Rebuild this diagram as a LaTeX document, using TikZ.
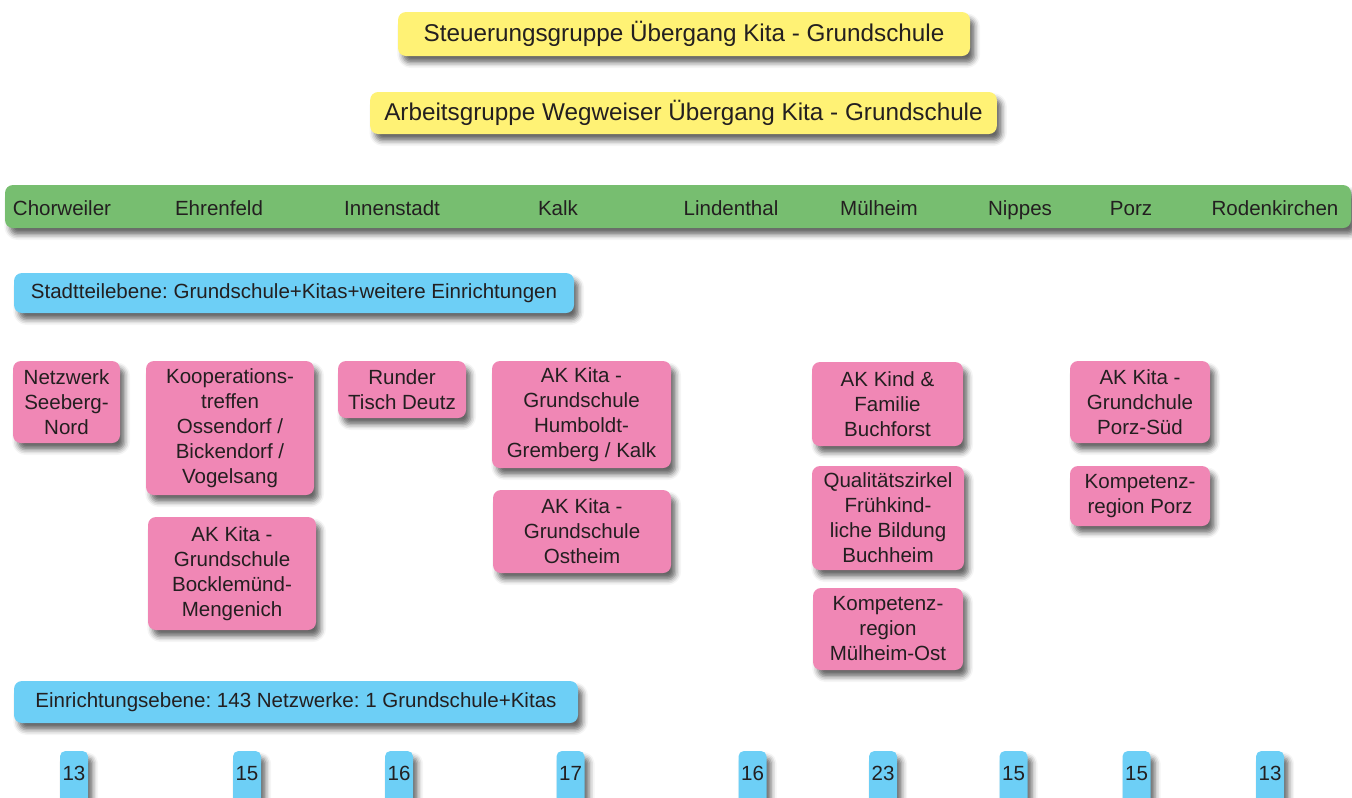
\documentclass[tikz,border=0pt]{standalone}
\usepackage{fontspec}
\setmainfont{Liberation Sans}
\usepackage{tikz}
\usetikzlibrary{shadows.blur}
\frenchspacing
\definecolor{kyellow}{RGB}{255,242,117}
\definecolor{kgreen}{RGB}{119,190,112}
\definecolor{kblue}{RGB}{109,207,246}
\definecolor{kpink}{RGB}{240,135,181}
\definecolor{ktext}{RGB}{35,31,32}
\tikzset{
	box/.style={rounded corners=6pt, inner sep=0pt, align=center, text=ktext,
		font=\fontsize{15.4}{18.75}\selectfont,
		blur shadow={shadow xshift=3.5pt, shadow yshift=-5pt, shadow blur radius=4pt, shadow opacity=60}},
	yellowbox/.style={box, fill=kyellow, font=\fontsize{18.2}{21}\selectfont},
	greenbar/.style={box, fill=kgreen},
	bluebox/.style={box, fill=kblue},
	pinkbox/.style={box, fill=kpink},
	numbox/.style={box, fill=kblue, rounded corners=4pt, minimum width=21pt, text height=21.75pt, text depth=18.75pt, anchor=base},
	district/.style={text=ktext, font=\fontsize{15.4}{18.75}\selectfont, anchor=base, inner sep=0pt}
}
\begin{document}
\begin{tikzpicture}[x=0.75pt, y=-0.75pt]
	\useasboundingbox (0,0) rectangle (1352,797);
	\node[yellowbox, minimum width=429pt, minimum height=33pt] (steuer) at (684,34) {Steuerungsgruppe Übergang Kita - Grundschule};
	\node[yellowbox, minimum width=470pt, minimum height=31.5pt] (arbeit) at (683.5,113) {Arbeitsgruppe Wegweiser Übergang Kita - Grundschule};
	\node[greenbar, minimum width=1009.5pt, minimum height=32.25pt] (bar) at (678,206.5) {};
	\node[district] (chor) at (62,215) {Chorweiler};
	\node[district] (ehren) at (219,215) {Ehrenfeld};
	\node[district] (innen) at (392,215) {Innenstadt};
	\node[district] (kalk) at (558,215) {Kalk};
	\node[district] (linden) at (731,215) {Lindenthal};
	\node[district] (muel) at (879,215) {Mülheim};
	\node[district] (nippes) at (1020,215) {Nippes};
	\node[district] (porz) at (1131,215) {Porz};
	\node[district] (roden) at (1275,215) {Rodenkirchen};
	\node[bluebox, minimum width=420pt, minimum height=30pt] (stadt) at (294,293) {Stadtteilebene: Grundschule+Kitas+weitere Einrichtungen};
	\node[pinkbox, minimum width=80.25pt, minimum height=61.5pt] (seeberg) at (66.5,402) {Netzwerk\\Seeberg-\\Nord};
	\node[pinkbox, minimum width=126pt, minimum height=100.5pt] (koop) at (230,428) {Kooperations-\\treffen\\Ossendorf /\\Bickendorf /\\Vogelsang};
	\node[pinkbox, minimum width=126pt, minimum height=84.75pt] (bockl) at (232,573.5) {AK Kita -\\Grundschule\\Bocklemünd-\\Mengenich};
	\node[pinkbox, minimum width=96pt, minimum height=42.75pt] (deutz) at (402,389.5) {Runder\\Tisch Deutz};
	\node[pinkbox, minimum width=134.25pt, minimum height=80.25pt] (humb) at (581.5,414.5) {AK Kita -\\Grundschule\\Humboldt-\\Gremberg / Kalk};
	\node[pinkbox, minimum width=133.5pt, minimum height=62.25pt] (ostheim) at (582,531.5) {AK Kita -\\Grundschule\\Ostheim};
	\node[pinkbox, minimum width=113.25pt, minimum height=63pt] (buchforst) at (887.5,404) {AK Kind \&\\Familie\\Buchforst};
	\node[pinkbox, minimum width=114pt, minimum height=78pt] (qualit) at (888,518) {Qualitätszirkel\\Frühkind-\\liche Bildung\\Buchheim};
	\node[pinkbox, minimum width=112.5pt, minimum height=61.5pt] (kompmh) at (888,629) {Kompetenz-\\region\\Mülheim-Ost};
	\node[pinkbox, minimum width=105pt, minimum height=61.5pt] (porzsued) at (1140,402) {AK Kita -\\Grundchule\\Porz-Süd};
	\node[pinkbox, minimum width=105pt, minimum height=45pt] (kompporz) at (1140,496) {Kompetenz-\\region Porz};
	\node[bluebox, minimum width=423pt, minimum height=31.5pt] (einr) at (296,702) {Einrichtungsebene: 143 Netzwerke: 1 Grundschule+Kitas};
	\node[numbox] (nchor) at (74,780) {13};
	\node[numbox] (nehren) at (247,780) {15};
	\node[numbox] (ninnen) at (399,780) {16};
	\node[numbox] (nkalk) at (570.5,780) {17};
	\node[numbox] (nlinden) at (752.5,780) {16};
	\node[numbox] (nmuel) at (883,780) {23};
	\node[numbox] (nnippes) at (1013.5,780) {15};
	\node[numbox] (nporz) at (1136.5,780) {15};
	\node[numbox] (nroden) at (1270,780) {13};
\end{tikzpicture}
\end{document}
